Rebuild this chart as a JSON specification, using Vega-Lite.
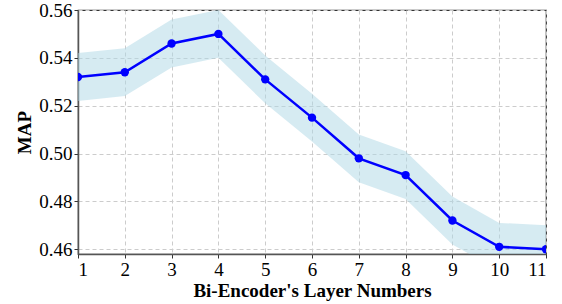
{
  "$schema": "https://vega.github.io/schema/vega-lite/v6.json",
  "width": 468,
  "height": 244,
  "autosize": "none",
  "padding": {"left": 78, "top": 10, "right": 16, "bottom": 50},
  "background": "white",
  "config": {
    "view": {"stroke": "#333", "strokeWidth": 1.2},
    "font": "Liberation Serif",
    "axis": {
      "labelFont": "Liberation Serif",
      "titleFont": "Liberation Serif",
      "labelFontSize": 19,
      "titleFontSize": 19,
      "titleFontWeight": "bold",
      "labelColor": "#000",
      "titleColor": "#000",
      "domainColor": "#555",
      "domainWidth": 1.5,
      "tickColor": "#333",
      "tickSize": 4,
      "gridColor": "#ccc",
      "gridDash": [4, 3],
      "gridWidth": 1
    }
  },
  "data": {
    "values": [
      {"layer": 1, "map": 0.532},
      {"layer": 2, "map": 0.534},
      {"layer": 3, "map": 0.546},
      {"layer": 4, "map": 0.550},
      {"layer": 5, "map": 0.531},
      {"layer": 6, "map": 0.515},
      {"layer": 7, "map": 0.498},
      {"layer": 8, "map": 0.491},
      {"layer": 9, "map": 0.472},
      {"layer": 10, "map": 0.461},
      {"layer": 11, "map": 0.460}
    ]
  },
  "transform": [
    {"calculate": "datum.map - 0.01", "as": "lo"},
    {"calculate": "datum.map + 0.01", "as": "hi"}
  ],
  "encoding": {
    "x": {
      "field": "layer",
      "type": "quantitative",
      "scale": {"domain": [1, 11], "nice": false},
      "axis": {"values": [1,2,3,4,5,6,7,8,9,10,11], "title": "Bi-Encoder's Layer Numbers", "titlePadding": 2, "labelPadding": 2}
    }
  },
  "layer": [
    {
      "mark": {"type": "area", "color": "#add8e6", "opacity": 0.5, "clip": true},
      "encoding": {
        "y": {"field": "lo", "type": "quantitative", "scale": {"domain": [0.458, 0.56], "nice": false, "zero": false}},
        "y2": {"field": "hi"}
      }
    },
    {
      "mark": {"type": "line", "color": "#0000ff", "strokeWidth": 2.5, "point": {"filled": true, "size": 70, "color": "#0000ff"}, "clip": true},
      "encoding": {
        "y": {
          "field": "map",
          "type": "quantitative",
          "scale": {"domain": [0.458, 0.56], "nice": false, "zero": false},
          "axis": {"values": [0.46,0.48,0.50,0.52,0.54,0.56], "format": ".2f", "title": "MAP", "titlePadding": 4, "labelPadding": 2}
        }
      }
    }
  ]
}
